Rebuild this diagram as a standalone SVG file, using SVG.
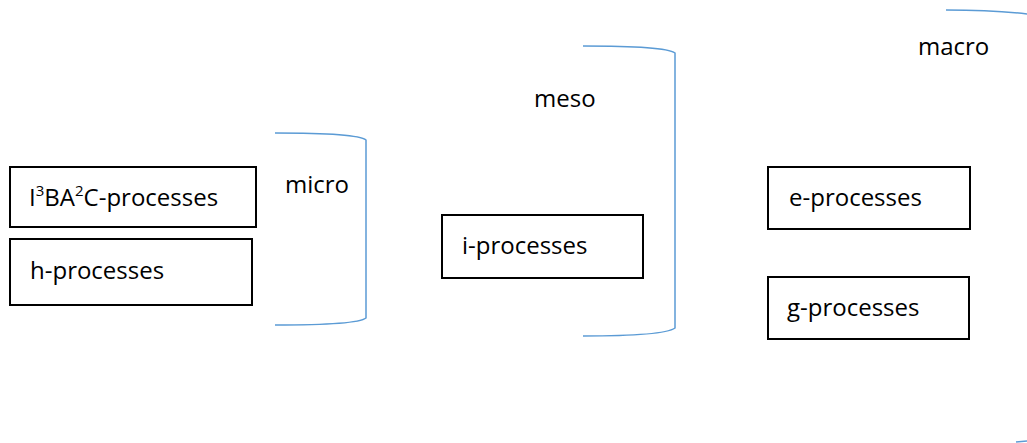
<svg xmlns="http://www.w3.org/2000/svg" width="1027" height="443" viewBox="0 0 1027 443">
  <style>
    .box { fill: #ffffff; stroke: #000000; stroke-width: 2; }
    .label { font-family: "Open Sans", "Liberation Sans", sans-serif; font-size: 24px; fill: #000000; }
    .brace { fill: none; stroke: #5b9bd5; stroke-width: 1.5; }
    .sup { font-size: 15px; }
  </style>
  <rect width="1027" height="443" fill="#ffffff"/>

  <!-- scale brackets -->
  <g id="brackets">
    <path class="brace" d="M275,133 C330,133 360,135 366,140 L366,318 C360,323 330,325 275,325"/>
    <path class="brace" d="M583,46 C635,46 668,48 675,53 L675,328 C668,333 635,336 583,336"/>
    <path class="brace" d="M946,10 C985,10 1010,12 1027,14"/>
    <path class="brace" d="M1016,442 L1027,441"/>
  </g>

  <!-- scale labels -->
  <g id="scale-labels">
    <text class="label" x="285" y="193">micro</text>
    <text class="label" x="534" y="107">meso</text>
    <text class="label" x="918" y="55">macro</text>
  </g>

  <g id="node-i3ba2c">
    <rect class="box" x="10" y="167" width="246" height="60"/>
    <text class="label" x="29" y="206">I<tspan class="sup" dy="-10">3</tspan><tspan dy="10">BA</tspan><tspan class="sup" dy="-10">2</tspan><tspan dy="10">C-processes</tspan></text>
  </g>

  <g id="node-h">
    <rect class="box" x="10" y="239" width="242" height="66"/>
    <text class="label" x="30" y="279">h-processes</text>
  </g>

  <g id="node-i">
    <rect class="box" x="442" y="215" width="201" height="63"/>
    <text class="label" x="462" y="254">i-processes</text>
  </g>

  <g id="node-e">
    <rect class="box" x="768" y="167" width="202" height="62"/>
    <text class="label" x="789" y="206">e-processes</text>
  </g>

  <g id="node-g">
    <rect class="box" x="768" y="277" width="201" height="62"/>
    <text class="label" x="787" y="316">g-processes</text>
  </g>
</svg>
